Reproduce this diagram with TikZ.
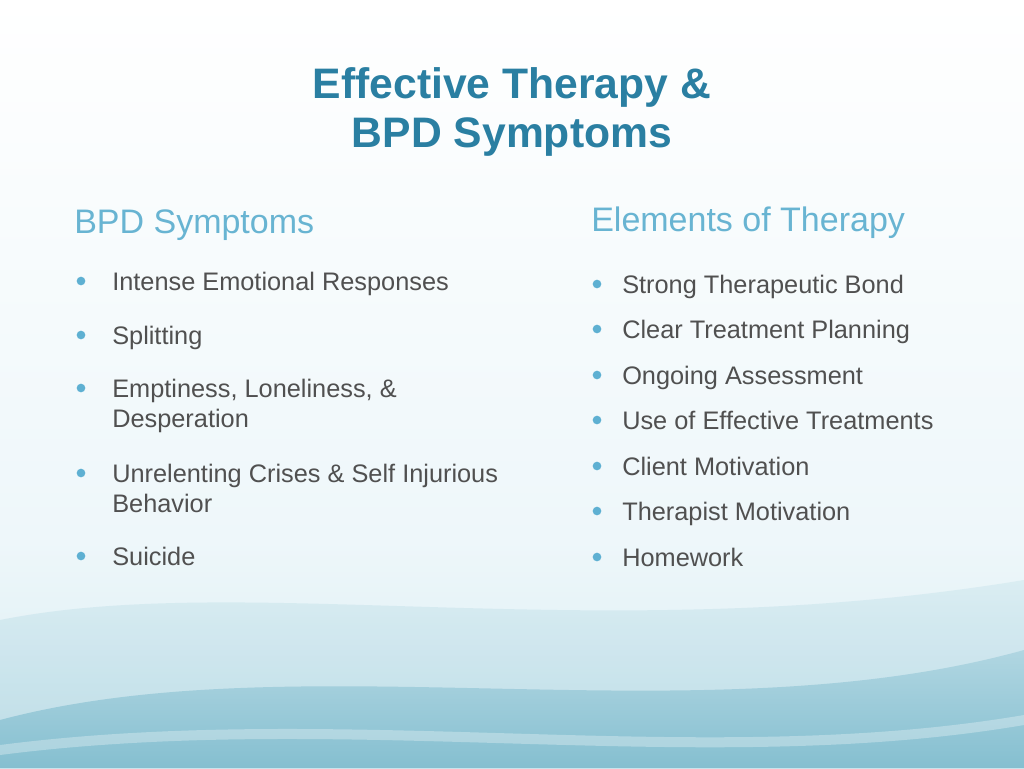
\documentclass[tikz,border=0pt]{standalone}
\usepackage{fontspec}
\setmainfont{Liberation Sans}
\definecolor{titlec}{HTML}{2A7FA2}
\definecolor{headc}{HTML}{68B4D2}
\definecolor{bodyc}{HTML}{505050}
\definecolor{bulc}{HTML}{5EB0D2}
\definecolor{bgtop}{HTML}{FFFFFF}
\definecolor{bgmid}{HTML}{EEF7FA}
\definecolor{wave1}{HTML}{D8ECF2}
\definecolor{wave2}{HTML}{B4D8E3}
\definecolor{wave3}{HTML}{85BFD0}
\begin{document}
\begin{tikzpicture}[x=0.75pt,y=-0.75pt,
  title/.style={font=\fontsize{32}{37}\selectfont\bfseries,text=titlec,anchor=base},
  head/.style={font=\fontsize{25.5}{30}\selectfont,text=headc,anchor=base west,inner sep=0},
  item/.style={font=\fontsize{19}{24}\selectfont,text=bodyc,anchor=base west,inner sep=0},
  bul/.style={circle,fill=bulc,inner sep=0,minimum size=6.5pt}]
\useasboundingbox (0,0) rectangle (1024,768);
\shade[top color=bgtop,bottom color=bgmid] (0,0) rectangle (1024,540);
\shade[top color=bgmid,bottom color=wave1] (0,540) rectangle (1024,768);
\shade[top color=wave1,bottom color=wave2,opacity=0.8] (0,620) .. controls (250,570) and (600,650) .. (1024,580) -- (1024,768) -- (0,768) -- cycle;
\shade[top color=wave2,bottom color=wave3] (0,720) .. controls (300,640) and (700,740) .. (1024,650) -- (1024,768) -- (0,768) -- cycle;
\fill[white,opacity=0.3] (0,745) .. controls (350,700) and (700,770) .. (1024,715) -- (1024,725) .. controls (700,780) and (350,710) .. (0,755) -- cycle;

\node[title] (t1) at (512,98) {Effective Therapy \&};
\node[title] (t2) at (512,147) {BPD Symptoms};

\node[head] (hl) at (74,233) {BPD Symptoms};
\node[head] (hr) at (591,231) {Elements of Therapy};

\foreach \n/\y/\t in {l1/290/{Intense Emotional Responses},l2/344/{Splitting},l3/397/{Emptiness, Loneliness, \&},l3b/427/{Desperation},l4/482/{Unrelenting Crises \& Self Injurious},l4b/512/{Behavior},l5/565/{Suicide}}{
  \node[item] (\n) at (112,\y) {\t};
}
\foreach \n/\y in {l1/290,l2/344,l3/397,l4/482,l5/565}{
  \node[bul] (b\n) at (81,\y-9) {};
}
\foreach \n/\y/\t in {r1/293/{Strong Therapeutic Bond},r2/338/{Clear Treatment Planning},r3/384/{Ongoing Assessment},r4/429/{Use of Effective Treatments},r5/475/{Client Motivation},r6/520/{Therapist Motivation},r7/566/{Homework}}{
  \node[item] (\n) at (622,\y) {\t};
  \node[bul] (b\n) at (597,\y-9) {};
}
\end{tikzpicture}
\end{document}
